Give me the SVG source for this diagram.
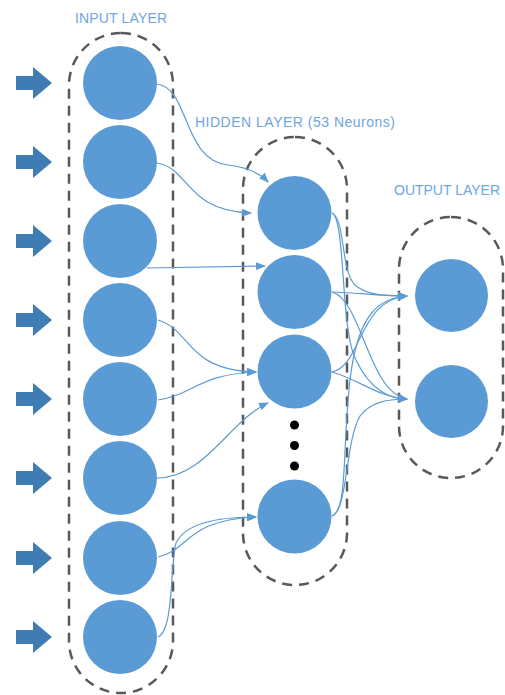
<svg xmlns="http://www.w3.org/2000/svg" width="505" height="695" viewBox="0 0 505 695">
<defs>
<style>
.lbl{font-family:"Liberation Sans",Arial,sans-serif;font-size:14px;fill:#6ea6dd}
.box{fill:none;stroke:#595959;stroke-width:2.5;stroke-dasharray:10 7}
.n{fill:#5b9bd5}
.in{fill:#3f7cb4}
.c{fill:none;stroke:#5b9bd5;stroke-width:1.2}
.a{marker-end:url(#ah)}
</style>
<marker id="ah" markerWidth="10" markerHeight="8" refX="9" refY="4" orient="auto" markerUnits="userSpaceOnUse">
<path d="M0,0 L10,4 L0,8 Z" fill="#5b9bd5"/>
</marker>
</defs>
<rect width="505" height="695" fill="#ffffff"/>

<text class="lbl" x="75" y="23" textLength="92">INPUT LAYER</text>
<text class="lbl" x="195" y="127" textLength="200">HIDDEN LAYER (53 Neurons)</text>
<text class="lbl" x="394" y="195" textLength="106">OUTPUT LAYER</text>

<g id="input-layer">
<rect class="box" x="69" y="33" width="104" height="660" rx="52" ry="52"/>
</g>
<g id="hidden-layer">
<rect class="box" x="243" y="137" width="104" height="448" rx="52" ry="52"/>
</g>
<g id="output-layer">
<rect class="box" x="399" y="217" width="104" height="261" rx="52" ry="52"/>
</g>

<g id="input-arrows">
<path class="in" d="M16,76 H33 V67 L52,83 L33,99 V90 H16 Z"/>
<path class="in" d="M16,155 H33 V146 L52,162 L33,178 V169 H16 Z"/>
<path class="in" d="M16,234 H33 V225 L52,241 L33,257 V248 H16 Z"/>
<path class="in" d="M16,313 H33 V304 L52,320 L33,336 V327 H16 Z"/>
<path class="in" d="M16,392 H33 V383 L52,399 L33,415 V406 H16 Z"/>
<path class="in" d="M16,471 H33 V462 L52,478 L33,494 V485 H16 Z"/>
<path class="in" d="M16,551 H33 V542 L52,558 L33,574 V565 H16 Z"/>
<path class="in" d="M16,630 H33 V621 L52,637 L33,653 V644 H16 Z"/>
</g>

<g id="connectors">
<path class="c a" d="M157,84 C190,88 182,160 228,165 Q255,168 268,182"/>
<path class="c a" d="M157,163 C190,168 185,211 251,213"/>
<path class="c a" d="M147,268 L265,266"/>
<path class="c a" d="M158,320 C192,330 185,370 256,372"/>
<path class="c a" d="M158,400 C192,395 200,374 256,372"/>
<path class="c a" d="M157,478 C205,478 230,420 268,403"/>
<path class="c a" d="M158,557 C190,550 185,520 256,517"/>
<path class="c a" d="M158,637 C174,630 170,565 176,543 C186,522 220,517 256,517"/>

<path class="c a" d="M332,213 C346,220 340,272 356,286 C368,295 385,296 407,296"/>
<path class="c a" d="M332,213 C346,220 340,330 356,360 C370,390 390,399 407,399"/>
<path class="c a" d="M332,292 C360,293 380,296 407,296"/>
<path class="c a" d="M332,292 C362,300 368,392 407,399"/>
<path class="c a" d="M332,372 C362,366 358,300 407,296"/>
<path class="c a" d="M332,372 C360,380 380,398 407,399"/>
<path class="c a" d="M332,516 C348,510 342,450 350,380 C358,312 380,298 407,296"/>
<path class="c a" d="M332,516 C348,510 345,442 360,416 C370,403 385,399 407,399"/>
</g>

<g id="input-nodes">
<circle id="i1" class="n" cx="120" cy="83" r="37"/>
<circle id="i2" class="n" cx="120" cy="162" r="37"/>
<circle id="i3" class="n" cx="120" cy="241" r="37"/>
<circle id="i4" class="n" cx="120" cy="320" r="37"/>
<circle id="i5" class="n" cx="120" cy="399" r="37"/>
<circle id="i6" class="n" cx="120" cy="478" r="37"/>
<circle id="i7" class="n" cx="120" cy="558" r="37"/>
<circle id="i8" class="n" cx="120" cy="637" r="37"/>
</g>
<g id="hidden-nodes">
<circle id="h1" class="n" cx="294.5" cy="213" r="37"/>
<circle id="h2" class="n" cx="294.5" cy="292" r="37"/>
<circle id="h3" class="n" cx="294.5" cy="371.5" r="37"/>
<circle id="h4" class="n" cx="294.5" cy="516.5" r="37"/>
<circle cx="294.5" cy="425" r="4.5" fill="#000"/>
<circle cx="294.5" cy="445.5" r="4.5" fill="#000"/>
<circle cx="294.5" cy="466" r="4.5" fill="#000"/>
</g>
<g id="output-nodes">
<circle id="o1" class="n" cx="451.5" cy="295.5" r="36.5"/>
<circle id="o2" class="n" cx="451.5" cy="401.5" r="36.5"/>
</g>
</svg>
